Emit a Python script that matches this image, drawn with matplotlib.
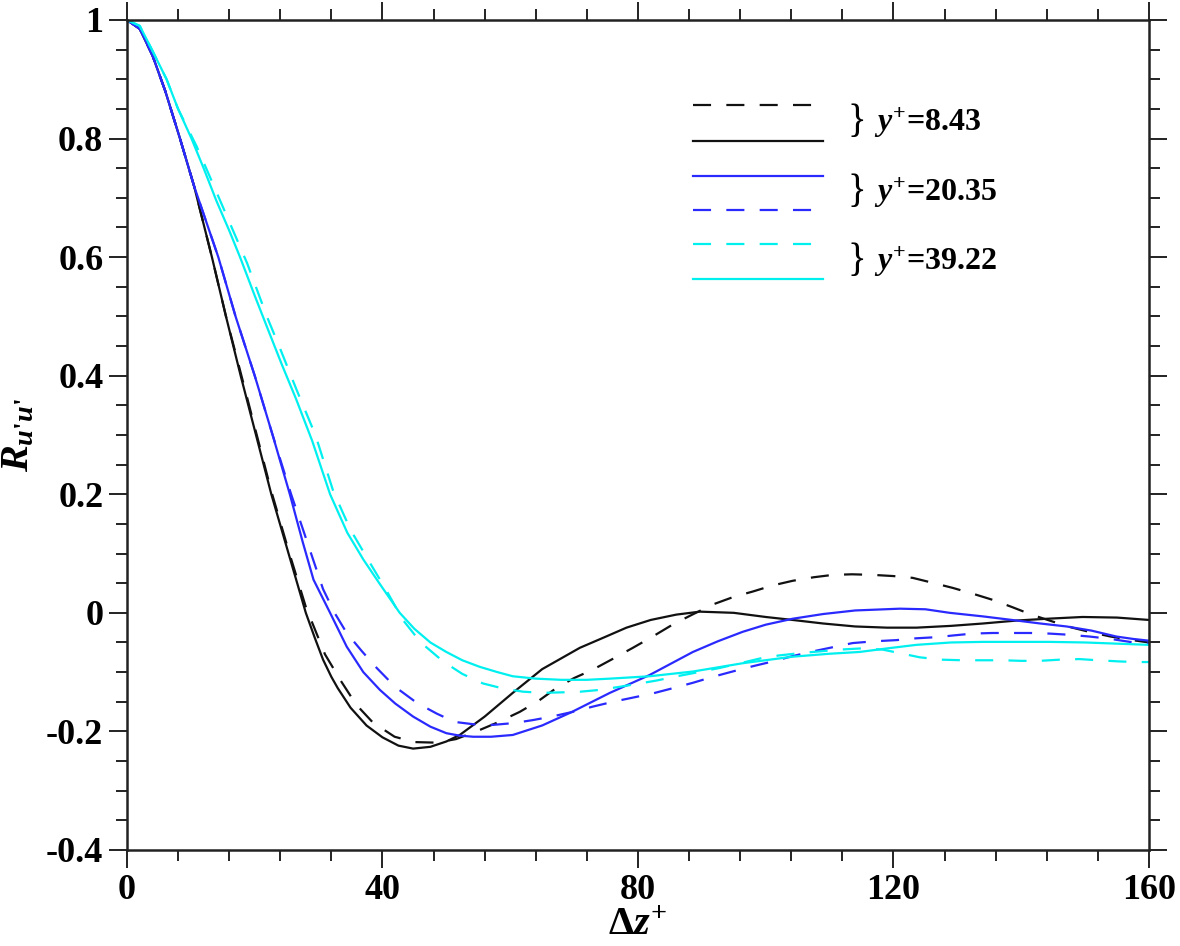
import numpy as np
import matplotlib
matplotlib.use('Agg')
import matplotlib.pyplot as plt
from matplotlib.ticker import MultipleLocator, FuncFormatter

# digitised curves, R_u'u' vs delta z+
# y+ = 8.43
x_k_dash = [0, 2, 4, 6, 8.3, 10.5, 13.3, 15.5, 17.8, 20.2, 22.6, 25.3, 28, 31, 33.5, 35.9, 38.5, 41.9, 45,
            48.5, 51.5, 54.7, 58, 61.5, 64.5, 67.2, 70, 72.9, 76, 79.2, 82.3, 85.4, 88.5, 91.7, 95, 98, 101,
            104.2, 107.5, 110.5, 113.5, 116.8, 120, 123, 126, 129.3, 132.5, 135.5, 138.5, 141.6, 145, 148,
            151, 154, 157.4, 160]
y_k_dash = [1, 0.985, 0.94, 0.88, 0.8, 0.72, 0.6, 0.5, 0.405, 0.305, 0.205, 0.105, 0.01, -0.07, -0.115,
            -0.155, -0.185, -0.209, -0.218, -0.219, -0.213, -0.2, -0.185, -0.167, -0.148, -0.127, -0.11,
            -0.096, -0.078, -0.059, -0.04, -0.02, -0.003, 0.014, 0.027, 0.036, 0.046, 0.054, 0.06, 0.064,
            0.065, 0.064, 0.062, 0.059, 0.051, 0.042, 0.032, 0.022, 0.01, -0.003, -0.015, -0.025, -0.033,
            -0.04, -0.046, -0.05]
x_k_solid = [0, 2, 4, 6, 8.3, 10.5, 13.3, 15.5, 17.8, 20.2, 22.6, 25.3, 28, 29.4, 30.7, 32, 33, 35, 37.5,
             40, 42.5, 44.8, 47.5, 50, 52.1, 56, 60.4, 65, 70.9, 75, 78.2, 82, 86, 89.7, 95, 100, 104.2,
             109, 114, 119, 123.6, 129, 134, 139.3, 144, 149.6, 155, 160]
y_k_solid = [1, 0.985, 0.94, 0.88, 0.8, 0.72, 0.6, 0.5, 0.4, 0.3, 0.2, 0.1, 0.0, -0.042, -0.079, -0.108,
             -0.127, -0.16, -0.19, -0.21, -0.224, -0.229, -0.226, -0.217, -0.206, -0.175, -0.135, -0.095,
             -0.059, -0.04, -0.025, -0.012, -0.003, 0.002, 0.0, -0.007, -0.012, -0.018, -0.023, -0.025,
             -0.025, -0.022, -0.018, -0.013, -0.01, -0.007, -0.008, -0.012]

# y+ = 20.35
x_b_solid = [0, 2, 4, 6, 8.3, 10.5, 14.3, 17, 20, 22.8, 25.5, 27.5, 29.2, 31.8, 34.4, 37, 39.6, 42, 44.8,
             47.5, 50, 52, 54.2, 57, 60.4, 65, 69.5, 75.6, 81.8, 88.6, 92.5, 96.4, 100, 104.2, 109, 114,
             121, 125, 128.8, 134, 139.3, 143, 147.1, 151, 154.9, 157.5, 160]
y_b_solid = [1, 0.985, 0.94, 0.88, 0.8, 0.72, 0.6, 0.5, 0.4, 0.3, 0.2, 0.12, 0.056, 0.0, -0.057, -0.1,
             -0.13, -0.153, -0.175, -0.192, -0.203, -0.207, -0.209, -0.209, -0.206, -0.19, -0.168, -0.135,
             -0.105, -0.066, -0.048, -0.032, -0.02, -0.01, -0.002, 0.004, 0.007, 0.006, 0.0, -0.006, -0.013,
             -0.018, -0.023, -0.03, -0.04, -0.044, -0.047]
x_b_dash = [0, 2, 4, 6, 8.3, 10.5, 14.3, 17, 20, 22.8, 25.7, 28.2, 30.7, 32.5, 34.4, 36.8, 39.1, 42, 45.4,
            48.5, 51.3, 54.3, 57.3, 60.5, 63.5, 66.5, 69.8, 73, 76.1, 79.2, 82.3, 85.5, 88.6, 91.7, 94.8, 98,
            101.1, 104.2, 107.4, 110.5, 113.6, 117, 120.5, 123.5, 126.8, 129.5, 132.4, 135.5, 138.7, 141.5,
            144.4, 147.5, 150.7, 154, 157, 160]
y_b_dash = [1, 0.985, 0.94, 0.88, 0.8, 0.72, 0.6, 0.5, 0.4, 0.3, 0.2, 0.12, 0.04, 0.0, -0.034, -0.065,
            -0.093, -0.125, -0.152, -0.17, -0.184, -0.188, -0.189, -0.186, -0.181, -0.175, -0.167, -0.158,
            -0.15, -0.143, -0.136, -0.127, -0.118, -0.108, -0.099, -0.09, -0.082, -0.073, -0.065, -0.058,
            -0.051, -0.048, -0.046, -0.043, -0.041, -0.038, -0.035, -0.034, -0.034, -0.034, -0.035, -0.037,
            -0.04, -0.044, -0.049, -0.052]

# y+ = 39.22
x_c_dash = [0, 2, 3.9, 6.2, 8, 10.9, 13, 15, 17, 18.8, 21.9, 24, 26.6, 29.5, 32.3, 35, 38, 40.5, 43.2, 46,
            49.5, 52.5, 55.7, 59, 62, 65, 68.5, 71, 74, 77, 79.8, 83, 86.1, 89.5, 92.8, 96, 99.1, 102, 105.3,
            108.5, 111.6, 115, 118.3, 121, 124.1, 127.5, 130.8, 134, 137.1, 140, 142.9, 146, 149.1, 152,
            155.4, 158, 160]
y_c_dash = [1, 0.99, 0.95, 0.9, 0.85, 0.787, 0.735, 0.685, 0.635, 0.59, 0.5, 0.445, 0.375, 0.3, 0.205,
            0.14, 0.085, 0.04, -0.012, -0.05, -0.082, -0.103, -0.119, -0.128, -0.133, -0.135, -0.134,
            -0.133, -0.13, -0.125, -0.12, -0.114, -0.107, -0.1, -0.093, -0.085, -0.077, -0.072, -0.068,
            -0.065, -0.062, -0.06, -0.062, -0.068, -0.075, -0.079, -0.08, -0.08, -0.08, -0.081, -0.081,
            -0.079, -0.078, -0.08, -0.082, -0.083, -0.083]
x_c_solid = [0, 2, 3.9, 6.2, 8, 10.1, 12, 14, 16, 17.7, 20, 22, 24.2, 26.5, 29, 31.8, 34.5, 37, 39.5, 42.7,
             45, 47.5, 50, 52.5, 55.2, 58, 60.4, 64, 68, 72, 75.6, 81.8, 88.6, 96.4, 104.2, 110, 114.7, 119,
             123.6, 129, 134, 139, 144.4, 150, 155, 160]
y_c_solid = [1, 0.99, 0.95, 0.9, 0.85, 0.8, 0.75, 0.695, 0.645, 0.6, 0.535, 0.48, 0.42, 0.36, 0.29, 0.2,
             0.135, 0.09, 0.05, 0.0, -0.027, -0.05, -0.066, -0.08, -0.091, -0.1, -0.107, -0.111, -0.113,
             -0.113, -0.111, -0.107, -0.099, -0.085, -0.074, -0.069, -0.066, -0.06, -0.054, -0.05, -0.049,
             -0.049, -0.049, -0.05, -0.052, -0.054]

labels = ['8.43', '20.35', '39.22']

plt.rcParams['font.family'] = 'Liberation Serif'
plt.rcParams['font.weight'] = 'bold'
plt.rcParams['axes.unicode_minus'] = False
plt.rcParams['mathtext.fontset'] = 'custom'
plt.rcParams['mathtext.rm'] = 'Liberation Serif:bold'
plt.rcParams['mathtext.it'] = 'Liberation Serif:italic:bold'
plt.rcParams['mathtext.bf'] = 'Liberation Serif:bold'
plt.rcParams['lines.scale_dashes'] = False

black = '#111111'
blue = '#2a2aff'
cyan = '#00f0f0'
dash = (13, 11)
lw = 1.6

fig = plt.figure(figsize=(11.8, 9.46), dpi=100)
ax = fig.add_axes([0.1076, 0.1015, 0.8661, 0.8774])

ax.plot(x_k_dash, y_k_dash, color=black, lw=lw, dashes=dash)
ax.plot(x_k_solid, y_k_solid, color=black, lw=lw)
ax.plot(x_b_solid, y_b_solid, color=blue, lw=lw)
ax.plot(x_b_dash, y_b_dash, color=blue, lw=lw, dashes=dash)
ax.plot(x_c_dash, y_c_dash, color=cyan, lw=lw, dashes=dash)
ax.plot(x_c_solid, y_c_solid, color=cyan, lw=lw)

ax.set_xlim(0, 160)
ax.set_ylim(-0.4, 1)
ax.xaxis.set_major_locator(MultipleLocator(40))
ax.xaxis.set_minor_locator(MultipleLocator(8))
ax.yaxis.set_major_locator(MultipleLocator(0.2))
ax.yaxis.set_minor_locator(MultipleLocator(0.05))
ax.yaxis.set_major_formatter(FuncFormatter(lambda v, p: '%g' % round(v, 2)))
ax.xaxis.set_major_formatter(FuncFormatter(lambda v, p: '%g' % v))
ax.tick_params(which='both', direction='out', top=True, right=True, width=1.4, colors='#222222',
               labelcolor='black', labelsize=26)
ax.tick_params(which='major', length=13, pad=4)
ax.tick_params(which='minor', length=8)
for s in ax.spines.values():
    s.set_linewidth(1.8)
    s.set_color('#222222')

ax.set_xlabel(r'$\Delta z^{+}$', fontsize=29, labelpad=0)
ax.set_ylabel(r"$R_{u\text{'}u\text{'}}$", fontsize=29, labelpad=6)

# hand-made legend
leg_styles = [(black, dash), (black, None), (blue, None), (blue, dash), (cyan, dash), (cyan, None)]
leg_y = [0.8976, 0.8546, 0.8124, 0.7711, 0.7297, 0.6876]
for (c, d), yy in zip(leg_styles, leg_y):
    kw = dict(dashes=d) if d else {}
    ax.plot([0.5538, 0.681], [yy, yy], color=c, lw=lw, transform=ax.transAxes, **kw)
for i, lab in enumerate(labels):
    yc = (leg_y[2 * i] + leg_y[2 * i + 1]) / 2
    ax.text(0.705, yc, '}', transform=ax.transAxes, fontsize=28, fontweight='normal',
            ha='left', va='center')
    ax.text(0.731, yc, r'$y^{+}$=' + lab, transform=ax.transAxes, fontsize=23,
            ha='left', va='center')

fig.savefig('out.png', dpi=100)
